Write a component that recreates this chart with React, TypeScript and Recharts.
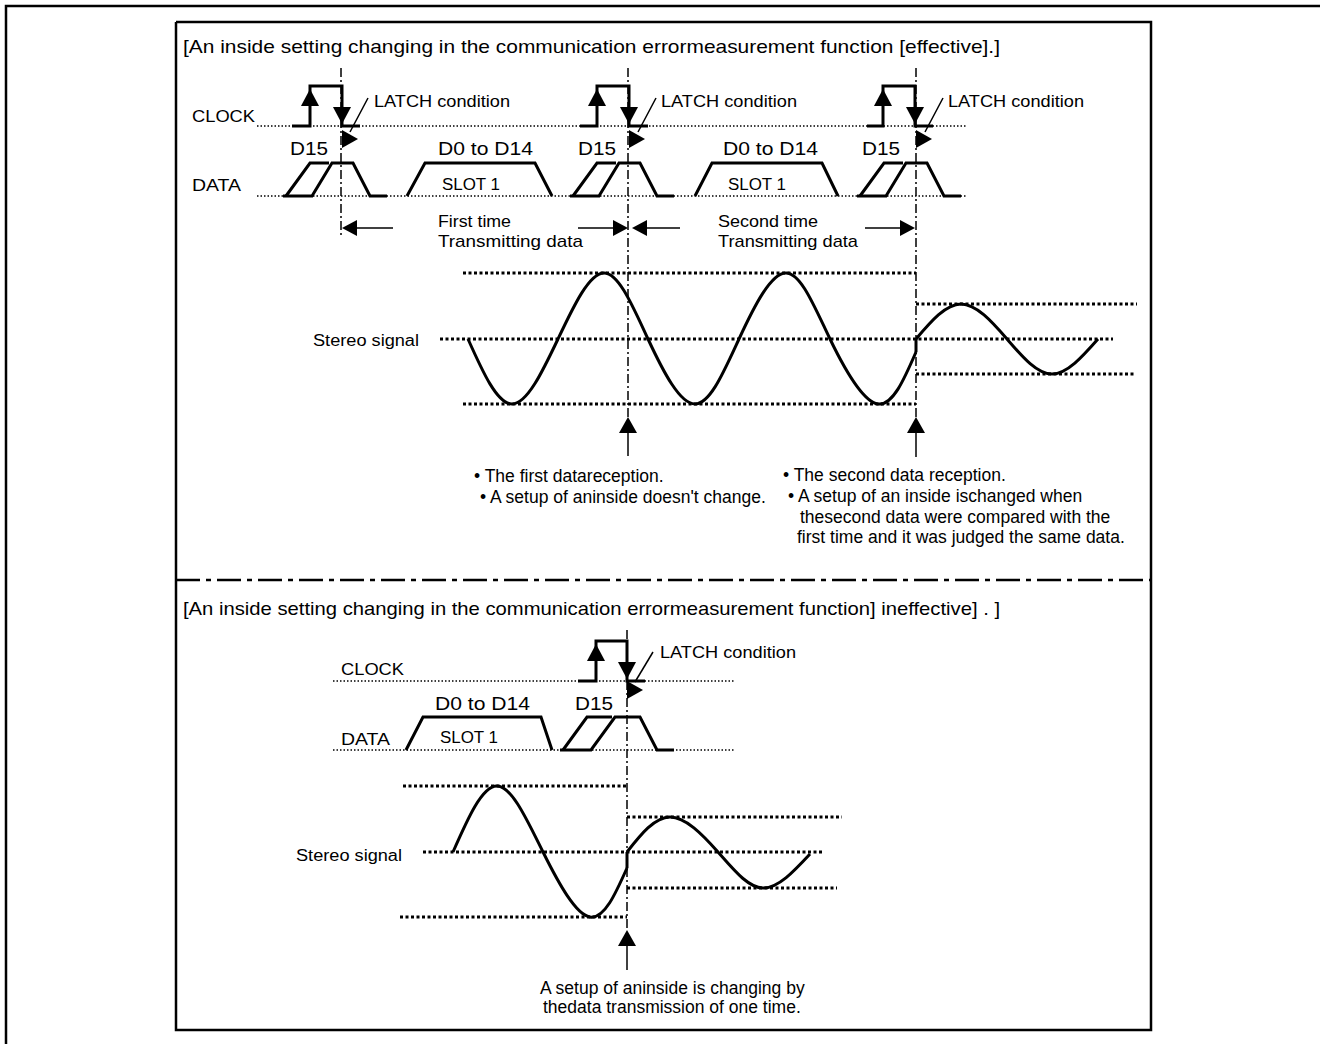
import React from 'react';
import { ComposedChart, Line, Scatter, XAxis, YAxis, Customized } from 'recharts';

type P = [number, number];

const W = 1320;
const H = 1044;

// ---- upper panel: measurement function effective ----
const clockA: P[] = [[292, 126], [310, 126], [310, 86], [342, 86], [342, 126], [360, 126]];
const clockB: P[] = [[580, 126], [597, 126], [597, 86], [629, 86], [629, 126], [648, 126]];
const clockC: P[] = [[867, 126], [883, 126], [883, 86], [915, 86], [915, 126], [933, 126]];

const d15A1: P[] = [[283, 196], [312, 196], [332, 163], [353, 163], [370, 196], [387, 196]];
const d15A2: P[] = [[286, 196], [310, 163], [329, 163]];
const d15B1: P[] = [[570, 196], [599, 196], [619, 163], [640, 163], [657, 196], [674, 196]];
const d15B2: P[] = [[573, 196], [597, 163], [616, 163]];
const d15C1: P[] = [[857, 196], [886, 196], [906, 163], [927, 163], [944, 196], [961, 196]];
const d15C2: P[] = [[860, 196], [884, 163], [903, 163]];
const slotA: P[] = [[407, 196], [425, 163], [535, 163], [552, 196]];
const slotB: P[] = [[695, 196], [712, 163], [822, 163], [838, 196]];

const stereoA: P[] = [[468, 339], [512, 404], [558, 339], [604, 273], [648, 339], [695, 404], [739, 339], [786, 273], [830, 339], [878, 404], [916, 352]];
const stereoAJump: P[] = [[916, 352], [916, 339]];
const stereoA2: P[] = [[916, 339], [961, 304], [1007, 339], [1052, 374], [1098, 339]];

// ---- lower panel: measurement function ineffective ----
const clockS: P[] = [[578, 681], [596, 681], [596, 641], [627, 641], [627, 681], [645, 681]];
const slotS: P[] = [[406, 750], [423, 717], [541, 717], [552, 750]];
const d15S1: P[] = [[560, 750], [591, 750], [615, 717], [640, 717], [657, 750], [674, 750]];
const d15S2: P[] = [[563, 750], [587, 717], [612, 717]];

const stereoS: P[] = [[453, 852], [497, 786], [543, 852], [590, 917], [627, 868]];
const stereoSJump: P[] = [[627, 868], [627, 852]];
const stereoS2: P[] = [[627, 852], [670, 817], [718, 852], [763, 888], [810, 854]];

// level guides
const levelGuides: P[][] = [
  [[463, 273], [916, 273]], [[440, 339], [1113, 339]], [[463, 404], [916, 404]],
  [[916, 304], [1137, 304]], [[916, 374], [1135, 374]],
  [[403, 786], [627, 786]], [[423, 852], [823, 852]], [[400, 917], [627, 917]],
  [[627, 817], [842, 817]], [[627, 888], [837, 888]],
];
const signalGuides: P[][] = [
  [[257, 126], [967, 126]], [[257, 196], [967, 196]],
  [[333, 681], [735, 681]], [[333, 750], [735, 750]],
];
const latchMarks: P[][] = [
  [[341, 68], [341, 238]], [[628, 68], [628, 418]], [[916, 68], [916, 418]], [[627, 630], [627, 930]],
];
const separator: P[] = [[176, 580], [1151, 580]];
const stems: P[][] = [
  [[357, 228], [393, 228]], [[578, 228], [613, 228]], [[647, 228], [680, 228]], [[865, 228], [900, 228]],
  [[628, 433], [628, 456]], [[916, 433], [916, 457]], [[627, 946], [627, 970]],
  [[368, 98], [350, 132]], [[656, 98], [638, 132]], [[943, 98], [925, 132]], [[653, 652], [635, 682]],
];
const innerFrame: P[] = [[176, 22], [1151, 22], [1151, 1030], [176, 1030], [176, 22]];
const outerFrame: P[] = [[6, 1044], [6, 6], [1320, 6]];

const heads = [
  { x: 310, y: 89, kind: 'up' }, { x: 342, y: 124, kind: 'down' },
  { x: 597, y: 89, kind: 'up' }, { x: 629, y: 124, kind: 'down' },
  { x: 883, y: 89, kind: 'up' }, { x: 915, y: 124, kind: 'down' },
  { x: 596, y: 644, kind: 'up' }, { x: 627, y: 679, kind: 'down' },
  { x: 358, y: 139, kind: 'latch' }, { x: 645, y: 139, kind: 'latch' },
  { x: 932, y: 139, kind: 'latch' }, { x: 643, y: 690, kind: 'latch' },
  { x: 342, y: 228, kind: 'left' }, { x: 628, y: 228, kind: 'right' },
  { x: 632, y: 228, kind: 'left' }, { x: 915, y: 228, kind: 'right' },
  { x: 628, y: 417, kind: 'up2' }, { x: 916, y: 417, kind: 'up2' }, { x: 627, y: 930, kind: 'up2' },
];

const texts = [
  { t: '[An inside setting changing in the communication errormeasurement function [effective].]', x: 183, y: 46, s: 19, len: 817 },
  { t: 'CLOCK', x: 192, y: 116, s: 16, len: 63 },
  { t: 'DATA', x: 192, y: 185, s: 16, len: 49 },
  { t: 'LATCH condition', x: 374, y: 101, s: 17, len: 136 },
  { t: 'LATCH condition', x: 661, y: 101, s: 17, len: 136 },
  { t: 'LATCH condition', x: 948, y: 101, s: 17, len: 136 },
  { t: 'D15', x: 290, y: 148, s: 19, len: 38 },
  { t: 'D15', x: 578, y: 148, s: 19, len: 38 },
  { t: 'D15', x: 862, y: 148, s: 19, len: 38 },
  { t: 'D0 to D14', x: 438, y: 148, s: 19, len: 95 },
  { t: 'D0 to D14', x: 723, y: 148, s: 19, len: 95 },
  { t: 'SLOT 1', x: 442, y: 184, s: 16, len: 58 },
  { t: 'SLOT 1', x: 728, y: 184, s: 16, len: 58 },
  { t: 'First time', x: 438, y: 221, s: 17, len: 73 },
  { t: 'Transmitting data', x: 438, y: 241, s: 17, len: 145 },
  { t: 'Second time', x: 718, y: 221, s: 17, len: 100 },
  { t: 'Transmitting data', x: 718, y: 241, s: 17, len: 140 },
  { t: 'Stereo signal', x: 313, y: 340, s: 16, len: 106 },
  { t: '• The first datareception.', x: 474, y: 476, s: 17.5 },
  { t: '• A setup of aninside doesn\'t change.', x: 480, y: 497, s: 17.5 },
  { t: '• The second data reception.', x: 783, y: 475, s: 17.5 },
  { t: '• A setup of an inside ischanged when', x: 788, y: 496, s: 17.5 },
  { t: 'thesecond data were compared with the', x: 800, y: 517, s: 17.5 },
  { t: 'first time and it was judged the same data.', x: 797, y: 537, s: 17.5 },
  { t: '[An inside setting changing in the communication errormeasurement function] ineffective] . ]', x: 183, y: 608, s: 19, len: 817 },
  { t: 'CLOCK', x: 341, y: 669, s: 16, len: 63 },
  { t: 'DATA', x: 341, y: 739, s: 16, len: 49 },
  { t: 'LATCH condition', x: 660, y: 652, s: 17, len: 136 },
  { t: 'D0 to D14', x: 435, y: 703, s: 19, len: 95 },
  { t: 'D15', x: 575, y: 703, s: 19, len: 38 },
  { t: 'SLOT 1', x: 440, y: 737, s: 16, len: 58 },
  { t: 'Stereo signal', x: 296, y: 855, s: 16, len: 106 },
  { t: 'A setup of aninside is changing by', x: 540, y: 988, s: 17.5 },
  { t: 'thedata transmission of one time.', x: 543, y: 1007, s: 17.5 },
];

type Series = { d: P[]; w: number; dash?: string; curve?: 'linear' | 'natural' };

const series: Series[] = [
  { d: outerFrame, w: 2.5 },
  { d: innerFrame, w: 2.5 },
  { d: separator, w: 2.5, dash: '24 6 5 6' },
  ...levelGuides.map((d) => ({ d, w: 3, dash: '3 2.5' })),
  ...signalGuides.map((d) => ({ d, w: 1.5, dash: '1.5 2' })),
  ...latchMarks.map((d) => ({ d, w: 1.5, dash: '9 3 2 3' })),
  ...stems.map((d) => ({ d, w: 1.5 })),
  ...[clockA, clockB, clockC, clockS, d15A1, d15A2, d15B1, d15B2, d15C1, d15C2, slotA, slotB, slotS, d15S1, d15S2, stereoAJump, stereoSJump].map((d) => ({ d, w: 3 })),
  ...[stereoA, stereoA2, stereoS, stereoS2].map((d) => ({ d, w: 3, curve: 'natural' as const })),
];

const xy = (d: P[]) => d.map(([x, y]) => ({ x, y }));

const HEAD: Record<string, [number, number]> = {
  up: [17, 9], down: [17, 9], up2: [16, 9], left: [15, 8], right: [15, 8], latch: [16, 9],
};

function Head(props: any) {
  const { cx, cy, payload } = props;
  const [l, h] = HEAD[payload.kind];
  let pts: number[][];
  switch (payload.kind) {
    case 'down':
      pts = [[cx, cy], [cx - h, cy - l], [cx + h, cy - l]];
      break;
    case 'left':
      pts = [[cx, cy], [cx + l, cy - h], [cx + l, cy + h]];
      break;
    case 'right':
    case 'latch':
      pts = [[cx, cy], [cx - l, cy - h], [cx - l, cy + h]];
      break;
    default:
      pts = [[cx, cy], [cx - h, cy + l], [cx + h, cy + l]];
  }
  return <polygon points={pts.map((p) => p.join(',')).join(' ')} fill="#000" />;
}

function Texts() {
  return (
    <g fontFamily="'Liberation Sans', Arial, sans-serif" fill="#000">
      {texts.map((l, i) => (
        <text
          key={i}
          x={l.x}
          y={l.y}
          fontSize={l.s}
          dominantBaseline="central"
          textLength={l.len}
          lengthAdjust={l.len ? 'spacingAndGlyphs' : undefined}
        >
          {l.t}
        </text>
      ))}
    </g>
  );
}

export default function App() {
  return (
    <div style={{ position: 'absolute', left: 0, top: 0, width: W, height: H, background: '#fff' }}>
      <ComposedChart width={W} height={H} margin={{ top: 0, right: 0, bottom: 0, left: 0 }}>
        <XAxis type="number" dataKey="x" domain={[0, W]} hide allowDataOverflow />
        <YAxis type="number" dataKey="y" domain={[0, H]} reversed hide allowDataOverflow />
        {series.map((s, i) => (
          <Line
            key={i}
            data={xy(s.d)}
            dataKey="y"
            type={s.curve ?? 'linear'}
            stroke="#000"
            strokeWidth={s.w}
            strokeDasharray={s.dash}
            strokeLinejoin="miter"
            dot={false}
            activeDot={false}
            legendType="none"
            isAnimationActive={false}
          />
        ))}
        <Scatter data={heads} shape={(p: any) => <Head {...p} />} isAnimationActive={false} />
        <Customized component={Texts} />
      </ComposedChart>
    </div>
  );
}
